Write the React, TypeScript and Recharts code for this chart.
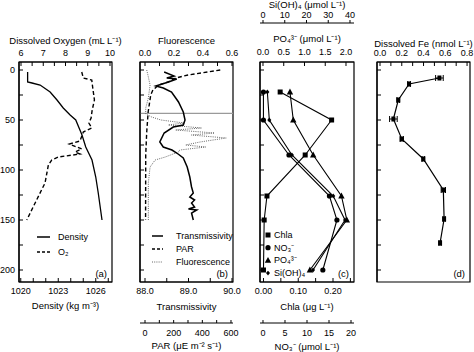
import {
  ScatterChart,
  Scatter,
  XAxis,
  YAxis,
  ReferenceArea,
  ReferenceLine,
  ErrorBar,
  Label,
  Legend,
} from "recharts";

const FONT = '"Liberation Sans", Arial, Helvetica, sans-serif';

// depth axis shared by all four panels (m)
const depthTicks = [0, 25, 50, 75, 100, 125, 150, 175, 200];
const depthDomain = [-8, 212];

// (a) density and dissolved oxygen
const densityDepth = [2, 12, 13, 15, 22, 30, 38, 45, 50, 65, 77, 90, 107, 123, 150];
const densityValues = [1020.55, 1020.55, 1020.9, 1021.55, 1022.35, 1022.9, 1023.4, 1023.95, 1024.4, 1024.9, 1025.2, 1025.7, 1026.0, 1026.2, 1026.5];
const oxygenDepth = [2, 8, 10, 17, 30, 40, 48, 53, 58, 62, 71, 74, 79, 82, 84, 87, 90, 95, 113, 130, 150];
const oxygenValues = [8.73, 8.8, 9.18, 9.22, 9.3, 9.2, 9.15, 9.05, 9.18, 8.8, 8.65, 8.17, 8.73, 8.43, 8.65, 7.68, 7.38, 7.23, 7.08, 6.7, 6.26];
const oxygenTicks = [6, 6.5, 7, 7.5, 8, 8.5, 9, 9.5, 10];
const densityTicks = [1020, 1021, 1022, 1023, 1024, 1025, 1026, 1027];

// (b) transmissivity, PAR, fluorescence
const transDepth = [2, 6, 8, 9, 12, 16, 18, 22, 27, 32, 42, 50, 55, 57, 63, 72, 77, 80, 83, 88, 97, 107, 117, 123, 127, 130, 133, 137, 139, 140, 143, 150];
const transValues = [88.44, 88.67, 88.5, 88.73, 88.54, 88.25, 88.42, 88.61, 88.69, 88.77, 88.88, 88.92, 88.88, 88.65, 88.44, 88.34, 88.42, 88.62, 88.73, 88.88, 88.97, 89.03, 89.07, 89.11, 89.03, 89.14, 89.07, 89.14, 89.0, 89.19, 89.07, 89.11];
const parDepth = [0, 5, 8, 12, 15, 20, 25, 42, 62, 85, 150];
const parValues = [525, 300, 215, 160, 95, 55, 40, 22, 12, 5, 4];
const fluorDepth = [0, 5, 15, 28, 38, 44, 47, 50, 53, 55, 58, 60, 63, 65, 68, 72, 75, 77, 80, 82, 87, 90, 97, 113, 150];
const fluorValues = [0.012, 0.02, 0.035, 0.023, 0.005, 0.005, 0.046, 0.11, 0.27, 0.16, 0.39, 0.21, 0.48, 0.32, 0.56, 0.38, 0.28, 0.42, 0.24, 0.23, 0.14, 0.07, 0.035, 0.023, 0.023];
const mixedLayerDepth = 43.3;
const fluorTicks = [0, 0.1, 0.2, 0.3, 0.4, 0.5, 0.6];
const transTicks = [88, 88.5, 89, 89.5, 90];
const parTicks = [0, 100, 200, 300, 400, 500, 600];

// (c) bottle samples
const sampleDepth = [22, 50, 85, 126, 150, 200];
const chlaValues = [0.048, 0.196, 0.12, 0.01, 0.002, 0.0];
const nitrateValues = [0.1, 0.1, 5.9, 15.1, 16.8, 13.6];
const phosphateValues = [0.65, 0.73, 1.21, 1.89, 2.02, 1.13];
const silicateValues = [2.0, 2.9, 13.3, 32.3, 37.7, 23.0];
const chlaTicks = [0, 0.05, 0.1, 0.15, 0.2, 0.25];
const nitrateTicks = [0, 5, 10, 15, 20];
const phosphateTicks = [0, 0.5, 1, 1.5, 2];
const silicateTicks = [0, 10, 20, 30, 40];

// (d) dissolved iron
const ironDepth = [8, 14, 30, 49, 69, 89, 120, 149, 173];
const ironValues = [0.546, 0.267, 0.168, 0.123, 0.2, 0.398, 0.582, 0.589, 0.552];
const ironError = [0.035, 0.012, 0.012, 0.035, 0.015, 0.012, 0.02, 0.01, 0.01];
const ironTicks = [0, 0.1, 0.2, 0.3, 0.4, 0.5, 0.6, 0.7, 0.8];

const toPoints = (depths: number[], values: number[]) =>
  depths.map((d, i) => ({ d, v: values[i] }));

const labelEvery = (step: number, digits: number) => (v: number) => {
  const r = v / step;
  return Math.abs(r - Math.round(r)) < 1e-6 ? v.toFixed(digits) : "";
};

const tickStyle = { fontSize: 9, fill: "#000" };
const titleStyle = { fontSize: 9.5, fill: "#000" };
const black = { stroke: "#000" };

const noDot = () => <g />;
const squareDot = (p: any) => <rect x={p.cx - 2.5} y={p.cy - 2.5} width={5} height={5} fill="#000" />;
const circleDot = (p: any) => <circle cx={p.cx} cy={p.cy} r={2.6} fill="#000" />;
const triangleDot = (p: any) => (
  <polygon points={`${p.cx},${p.cy - 3.5} ${p.cx + 3.2},${p.cy + 2.4} ${p.cx - 3.2},${p.cy + 2.4}`} fill="#000" />
);
const diamondDot = (p: any) => (
  <polygon points={`${p.cx},${p.cy - 2.4} ${p.cx + 2},${p.cy} ${p.cx},${p.cy + 2.4} ${p.cx - 2},${p.cy}`} fill="#000" />
);
const ironDot = (p: any) => <rect x={p.cx - 2} y={p.cy - 2.5} width={4} height={5} fill="#000" />;

const depthAxis = (width: number, showLabels: boolean) => (
  <YAxis
    yAxisId="d"
    type="number"
    dataKey="d"
    domain={depthDomain}
    reversed
    allowDataOverflow
    ticks={depthTicks}
    interval={0}
    width={width}
    tickSize={-4}
    tickMargin={8}
    tick={tickStyle}
    tickFormatter={showLabels ? labelEvery(50, 0) : () => ""}
    axisLine={{ stroke: "#000", strokeWidth: 1.2 }}
    tickLine={black}
  />
);

type Item = { label: string; kind: string };

const LegendBox = ({ items, gap, sampleW, textX }: { items: Item[]; gap: number; sampleW: number; textX: number }) => (
  <svg width={textX + 70} height={items.length * gap + 4} style={{ display: "block", fontFamily: FONT }}>
    {items.map((it, i) => {
      const y = 6 + i * gap;
      const cx = sampleW / 2;
      let mark;
      if (it.kind === "solid") mark = <line x1={0} x2={sampleW} y1={y} y2={y} stroke="#000" strokeWidth={1.5} />;
      else if (it.kind === "dash") mark = <line x1={0} x2={sampleW} y1={y} y2={y} stroke="#000" strokeWidth={1.4} strokeDasharray="3 2" />;
      else if (it.kind === "dot") mark = <line x1={0} x2={sampleW} y1={y} y2={y} stroke="#666" strokeWidth={1} strokeDasharray="1 1.2" />;
      else if (it.kind === "square") mark = squareDot({ cx, cy: y });
      else if (it.kind === "circle") mark = circleDot({ cx, cy: y });
      else if (it.kind === "triangle") mark = triangleDot({ cx, cy: y });
      else mark = diamondDot({ cx, cy: y });
      return (
        <g key={it.label}>
          {mark}
          <text x={textX} y={y} dominantBaseline="central" fontSize={9} fill="#000">
            {it.label}
          </text>
        </g>
      );
    })}
  </svg>
);

const PanelA = () => (
  <ScatterChart width={125} height={352} margin={{ top: 22, right: 13, bottom: 30, left: 0 }}>
    <XAxis xAxisId="o2" orientation="top" height={40} type="number" dataKey="v" domain={[5.91, 10.09]} allowDataOverflow
      ticks={oxygenTicks} interval={0} tickSize={-4} tickMargin={10} tick={tickStyle} tickFormatter={labelEvery(1, 0)}
      axisLine={black} tickLine={black}>
      <Label value="Dissolved Oxygen (mL L⁻¹)" position="insideTop" offset={15} style={titleStyle} />
    </XAxis>
    <XAxis xAxisId="rho" orientation="bottom" height={40} type="number" dataKey="v" domain={[1019.86, 1027.3]} allowDataOverflow
      ticks={densityTicks} interval={0} tickSize={-4} tickMargin={10} tick={tickStyle} tickFormatter={(v: number) => ([1020, 1023, 1026].includes(v) ? String(v) : "")}
      axisLine={black} tickLine={black}>
      <Label value="Density (kg m⁻³)" position="insideBottom" offset={13} style={titleStyle} />
    </XAxis>
    {depthAxis(19, true)}
    <ReferenceArea xAxisId="rho" yAxisId="d" x1={1019.86} x2={1027.3} y1={-8} y2={212} fill="none" stroke="#000" strokeWidth={1.2} ifOverflow="visible"
      label={{ value: "(a)", position: "insideBottomRight", offset: 5, fontSize: 9.5, fill: "#000" }} />
    <Scatter xAxisId="rho" yAxisId="d" data={toPoints(densityDepth, densityValues)} fill="#000" shape={noDot}
      line={{ stroke: "#000", strokeWidth: 1.3 }} isAnimationActive={false} />
    <Scatter xAxisId="o2" yAxisId="d" data={toPoints(oxygenDepth, oxygenValues)} fill="#000" shape={noDot}
      line={{ stroke: "#000", strokeWidth: 1.4, strokeDasharray: "4 2.5" }} isAnimationActive={false} />
    <Legend layout="vertical" align="center" verticalAlign="middle" wrapperStyle={{ left: 37, top: 231 }}
      content={() => <LegendBox items={[{ label: "Density", kind: "solid" }, { label: "O₂", kind: "dash" }]} gap={15} sampleW={13} textX={21} />} />
  </ScatterChart>
);

// bottom axes stack by id order: "t" (transmissivity) sits on the frame, "u" (PAR) below it
const PanelB = () => (
  <ScatterChart width={115} height={352} margin={{ top: 22, right: 10, bottom: 0, left: 0 }}>
    <XAxis xAxisId="f" orientation="top" height={40} type="number" dataKey="v" domain={[-0.0345, 0.607]} allowDataOverflow
      ticks={fluorTicks} interval={0} tickSize={-4} tickMargin={10} tick={tickStyle} tickFormatter={labelEvery(0.2, 1)}
      axisLine={black} tickLine={black}>
      <Label value="Fluorescence" position="insideTop" offset={15} style={titleStyle} />
    </XAxis>
    <XAxis xAxisId="t" orientation="bottom" height={41} type="number" dataKey="v" domain={[87.885, 90.023]} allowDataOverflow
      ticks={transTicks} interval={0} tickSize={-4} tickMargin={10} tick={tickStyle} tickFormatter={labelEvery(1, 1)}
      axisLine={black} tickLine={black}>
      <Label value="Transmissivity" position="insideBottom" offset={13} style={titleStyle} />
    </XAxis>
    <XAxis xAxisId="u" orientation="bottom" height={29} type="number" dataKey="v" domain={[-34.9, 614]} allowDataOverflow
      ticks={parTicks} interval={0} tickSize={-3} tickMargin={10} tick={tickStyle} tickFormatter={labelEvery(200, 0)}
      axisLine={black} tickLine={black}>
      <Label value="PAR (μE m⁻² s⁻¹)" position="insideBottom" offset={3} style={titleStyle} />
    </XAxis>
    {depthAxis(12, false)}
    <ReferenceArea xAxisId="t" yAxisId="d" x1={87.885} x2={90.023} y1={-8} y2={212} fill="none" stroke="#000" strokeWidth={1.2} ifOverflow="visible"
      label={{ value: "(b)", position: "insideBottomRight", offset: 5, fontSize: 9.5, fill: "#000" }} />
    <ReferenceLine xAxisId="t" yAxisId="d" y={mixedLayerDepth} stroke="#9a9a9a" strokeWidth={1.3} />
    <Scatter xAxisId="f" yAxisId="d" data={toPoints(fluorDepth, fluorValues)} fill="#666" shape={noDot}
      line={{ stroke: "#666", strokeWidth: 1, strokeDasharray: "1 1.2" }} isAnimationActive={false} />
    <Scatter xAxisId="u" yAxisId="d" data={toPoints(parDepth, parValues)} fill="#000" shape={noDot}
      line={{ stroke: "#000", strokeWidth: 1.4, strokeDasharray: "4 2.5" }} isAnimationActive={false} />
    <Scatter xAxisId="t" yAxisId="d" data={toPoints(transDepth, transValues)} fill="#000" shape={noDot}
      line={{ stroke: "#000", strokeWidth: 1.5 }} isAnimationActive={false} />
    <Legend layout="vertical" align="center" verticalAlign="middle" wrapperStyle={{ left: 24, top: 230 }}
      content={() => (
        <LegendBox items={[{ label: "Transmissivity", kind: "solid" }, { label: "PAR", kind: "dash" }, { label: "Fluorescence", kind: "dot" }]}
          gap={13} sampleW={11} textX={24} />
      )} />
  </ScatterChart>
);

const PanelC = () => (
  <ScatterChart width={117} height={352} margin={{ top: 0, right: 11, bottom: 0, left: 0 }}>
    <XAxis xAxisId="po4" orientation="top" height={39} type="number" dataKey="v" domain={[-0.072, 2.193]} allowDataOverflow
      ticks={phosphateTicks} interval={0} tickSize={-4} tickMargin={11} tick={tickStyle} tickFormatter={labelEvery(0.5, 1)}
      axisLine={black} tickLine={black}>
      <Label value="PO₄³⁻ (μmol L⁻¹)" position="insideTop" offset={12} style={titleStyle} />
    </XAxis>
    <XAxis xAxisId="si" orientation="top" height={23} type="number" dataKey="v" domain={[-1.38, 41.84]} allowDataOverflow
      ticks={silicateTicks} interval={0} tickSize={3} tickMargin={2} tick={tickStyle} tickFormatter={labelEvery(10, 0)}
      axisLine={black} tickLine={black}>
      <Label value="Si(OH)₄ (μmol L⁻¹)" position="insideTop" offset={1} style={titleStyle} />
    </XAxis>
    <XAxis xAxisId="chla" orientation="bottom" height={41} type="number" dataKey="v" domain={[-0.01, 0.2604]} allowDataOverflow
      ticks={chlaTicks} interval={0} tickSize={-4} tickMargin={10} tick={tickStyle} tickFormatter={labelEvery(0.1, 2)}
      axisLine={black} tickLine={black}>
      <Label value="Chla (μg L⁻¹)" position="insideBottom" offset={13} style={titleStyle} />
    </XAxis>
    <XAxis xAxisId="no3" orientation="bottom" height={29} type="number" dataKey="v" domain={[-0.68, 20.68]} allowDataOverflow
      ticks={nitrateTicks} interval={0} tickSize={-3} tickMargin={10} tick={tickStyle} tickFormatter={labelEvery(5, 0)}
      axisLine={black} tickLine={black}>
      <Label value="NO₃⁻ (μmol L⁻¹)" position="insideBottom" offset={2} style={titleStyle} />
    </XAxis>
    {depthAxis(12, false)}
    <ReferenceArea xAxisId="chla" yAxisId="d" x1={-0.01} x2={0.2604} y1={-8} y2={212} fill="none" stroke="#000" strokeWidth={1.2} ifOverflow="visible"
      label={{ value: "(c)", position: "insideBottomRight", offset: 5, fontSize: 9.5, fill: "#000" }} />
    <Scatter xAxisId="chla" yAxisId="d" data={toPoints(sampleDepth, chlaValues)} fill="#000" shape={squareDot}
      line={{ stroke: "#000", strokeWidth: 1.1 }} isAnimationActive={false} />
    <Scatter xAxisId="no3" yAxisId="d" data={toPoints(sampleDepth, nitrateValues)} fill="#000" shape={circleDot}
      line={{ stroke: "#000", strokeWidth: 1.1 }} isAnimationActive={false} />
    <Scatter xAxisId="po4" yAxisId="d" data={toPoints(sampleDepth, phosphateValues)} fill="#000" shape={triangleDot}
      line={{ stroke: "#000", strokeWidth: 1.1 }} isAnimationActive={false} />
    <Scatter xAxisId="si" yAxisId="d" data={toPoints(sampleDepth, silicateValues)} fill="#000" shape={diamondDot}
      line={{ stroke: "#000", strokeWidth: 1.1 }} isAnimationActive={false} />
    <Legend layout="vertical" align="center" verticalAlign="middle" wrapperStyle={{ left: 16, top: 229 }}
      content={() => (
        <LegendBox items={[{ label: "Chla", kind: "square" }, { label: "NO₃⁻", kind: "circle" }, { label: "PO₄³⁻", kind: "triangle" }, { label: "Si(OH)₄", kind: "diamond" }]}
          gap={12.7} sampleW={8} textX={10} />
      )} />
  </ScatterChart>
);

const PanelD = () => (
  <ScatterChart width={109} height={352} margin={{ top: 22, right: 4, bottom: 70, left: 0 }}>
    <XAxis xAxisId="fe" orientation="top" height={40} type="number" dataKey="v" domain={[-0.0276, 0.827]} allowDataOverflow
      ticks={ironTicks} interval={0} tickSize={-4} tickMargin={10} tick={tickStyle} tickFormatter={labelEvery(0.2, 1)}
      axisLine={black} tickLine={black}>
      <Label value="Dissolved Fe (nmol L⁻¹)" position="insideTop" offset={18} style={titleStyle} />
    </XAxis>
    {depthAxis(12, false)}
    <ReferenceArea xAxisId="fe" yAxisId="d" x1={-0.0276} x2={0.827} y1={-8} y2={212} fill="none" stroke="#000" strokeWidth={1.2} ifOverflow="visible"
      label={{ value: "(d)", position: "insideBottomRight", offset: 5, fontSize: 9.5, fill: "#000" }} />
    <Scatter xAxisId="fe" yAxisId="d" data={ironDepth.map((d, i) => ({ d, v: ironValues[i], e: ironError[i] }))} fill="#000" shape={ironDot}
      line={{ stroke: "#000", strokeWidth: 1.2 }} isAnimationActive={false}>
      <ErrorBar dataKey="e" direction="x" width={3} stroke="#000" strokeWidth={1} />
    </Scatter>
  </ScatterChart>
);

const place = (left: number) => ({ position: "absolute" as const, left, top: 0 });

export default function App() {
  return (
    <div style={{ position: "absolute", left: 0, top: 0, width: 474, height: 352, background: "#fff", fontFamily: FONT, overflow: "hidden" }}>
      <div style={place(0)}><PanelA /></div>
      <div style={place(128)}><PanelB /></div>
      <div style={place(248)}><PanelC /></div>
      <div style={place(365)}><PanelD /></div>
    </div>
  );
}
